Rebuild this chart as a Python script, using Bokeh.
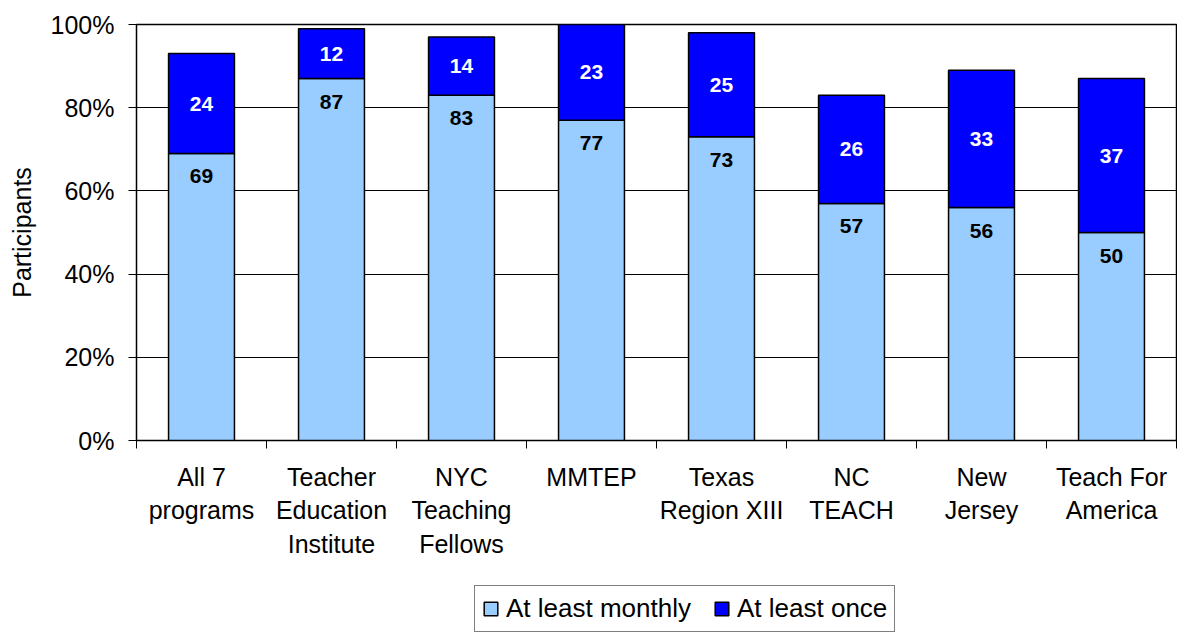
from bokeh.plotting import figure
from bokeh.layouts import column
from bokeh.models import Range1d, FixedTicker, PrintfTickFormatter, Legend, LegendItem, ColumnDataSource
from bokeh.core.properties import value
from bokeh.embed import file_html
from bokeh.resources import INLINE

categories = ["All 7\nprograms", "Teacher\nEducation\nInstitute", "NYC\nTeaching\nFellows", "MMTEP",
              "Texas\nRegion XIII", "NC\nTEACH", "New\nJersey", "Teach For\nAmerica"]
monthly = [69, 87, 83, 77, 73, 57, 56, 50]
once = [24, 12, 14, 23, 25, 26, 33, 37]
y_ticks = [0, 20, 40, 60, 80, 100]
series_names = ["At least monthly", "At least once"]
colors = ["#99CCFF", "#0000FF"]

FONT = "Liberation Sans"
xs = list(range(len(categories)))
tops = [m + o for m, o in zip(monthly, once)]
mid_once = [m + o / 2 for m, o in zip(monthly, once)]

src = ColumnDataSource(dict(x=xs, monthly=monthly, once=once, tops=tops, mid=mid_once,
                            mlab=[str(v) for v in monthly], olab=[str(v) for v in once]))

p = figure(width=1177, height=570, x_range=Range1d(-0.5, len(categories) - 0.5), y_range=Range1d(0, 100),
           output_backend="svg", toolbar_location=None,
           min_border_left=136, min_border_top=24, min_border_right=1, min_border_bottom=130)
p.background_fill_color = "white"
p.border_fill_color = "white"
p.outline_line_color = "black"
p.outline_line_width = 1.5

r1 = p.vbar(x="x", bottom=0, top="monthly", width=0.507, source=src,
            fill_color=colors[0], line_color="black", line_width=1.5)
r2 = p.vbar(x="x", bottom="monthly", top="tops", width=0.507, source=src,
            fill_color=colors[1], line_color="black", line_width=1.5)

p.text(x="x", y="monthly", text="mlab", source=src, text_align="center", text_baseline="top",
       y_offset=16, text_font=value(FONT), text_font_style="bold", text_font_size="21px", text_color="black")
p.text(x="x", y="mid", text="olab", source=src, text_align="center", text_baseline="middle",
       text_font=value(FONT), text_font_style="bold", text_font_size="21px", text_color="white")

p.xgrid.visible = False
p.ygrid.grid_line_color = "black"
p.ygrid.grid_line_width = 1

xa = p.xaxis[0]
xa.ticker = FixedTicker(ticks=xs, minor_ticks=[i - 0.5 for i in range(len(categories) + 1)])
xa.major_label_overrides = {i: c for i, c in zip(xs, categories)}
xa.major_tick_line_color = None
xa.minor_tick_line_color = "black"
xa.minor_tick_out = 8
xa.minor_tick_in = 0
xa.axis_line_color = "black"
xa.major_label_text_font = FONT
xa.major_label_text_font_size = "25px"
xa.major_label_text_color = "black"
xa.major_label_standoff = 14

ya = p.yaxis[0]
ya.ticker = FixedTicker(ticks=y_ticks)
ya.formatter = PrintfTickFormatter(format="%d%%")
ya.major_tick_out = 8
ya.major_tick_in = 0
ya.minor_tick_line_color = None
ya.axis_line_color = "black"
ya.major_tick_line_color = "black"
ya.major_label_text_font = FONT
ya.major_label_text_font_size = "25px"
ya.major_label_text_color = "black"
ya.major_label_standoff = 14
ya.axis_label = "Participants"
ya.axis_label_text_font = FONT
ya.axis_label_text_font_size = "25px"
ya.axis_label_text_font_style = "normal"
ya.axis_label_text_color = "black"
ya.axis_label_standoff = 12

# legend panel below the chart: same series as hidden renderers, only their legend swatches show
p2 = figure(width=1177, height=63, x_range=Range1d(-0.5, len(categories) - 0.5), y_range=Range1d(0, 100),
            output_backend="svg", toolbar_location=None, x_axis_location=None, y_axis_location=None,
            min_border_left=0, min_border_right=0, min_border_top=0, min_border_bottom=0)
p2.outline_line_color = None
p2.grid.visible = False
p2.background_fill_color = "white"
p2.border_fill_color = "white"
d1 = p2.vbar(x="x", bottom=0, top="monthly", width=0.507, source=src,
             fill_color=colors[0], line_color="black", line_width=1.5, visible=False)
d2 = p2.vbar(x="x", bottom="monthly", top="tops", width=0.507, source=src,
             fill_color=colors[1], line_color="black", line_width=1.5, visible=False)

legend = Legend(items=[LegendItem(label=series_names[0], renderers=[d1]),
                       LegendItem(label=series_names[1], renderers=[d2])],
                orientation="horizontal", location=(338, 1), click_policy="none")
legend.border_line_color = "black"
legend.border_line_width = 1
legend.label_text_font = FONT
legend.label_text_font_size = "26px"
legend.label_text_color = "black"
legend.glyph_width = 17
legend.glyph_height = 17
legend.spacing = 22
legend.label_standoff = 7
legend.padding = 7
legend.margin = 0
p2.add_layout(legend, "center")

layout = column(p, p2, spacing=0)
open("out.html", "w").write(file_html(layout, INLINE))
